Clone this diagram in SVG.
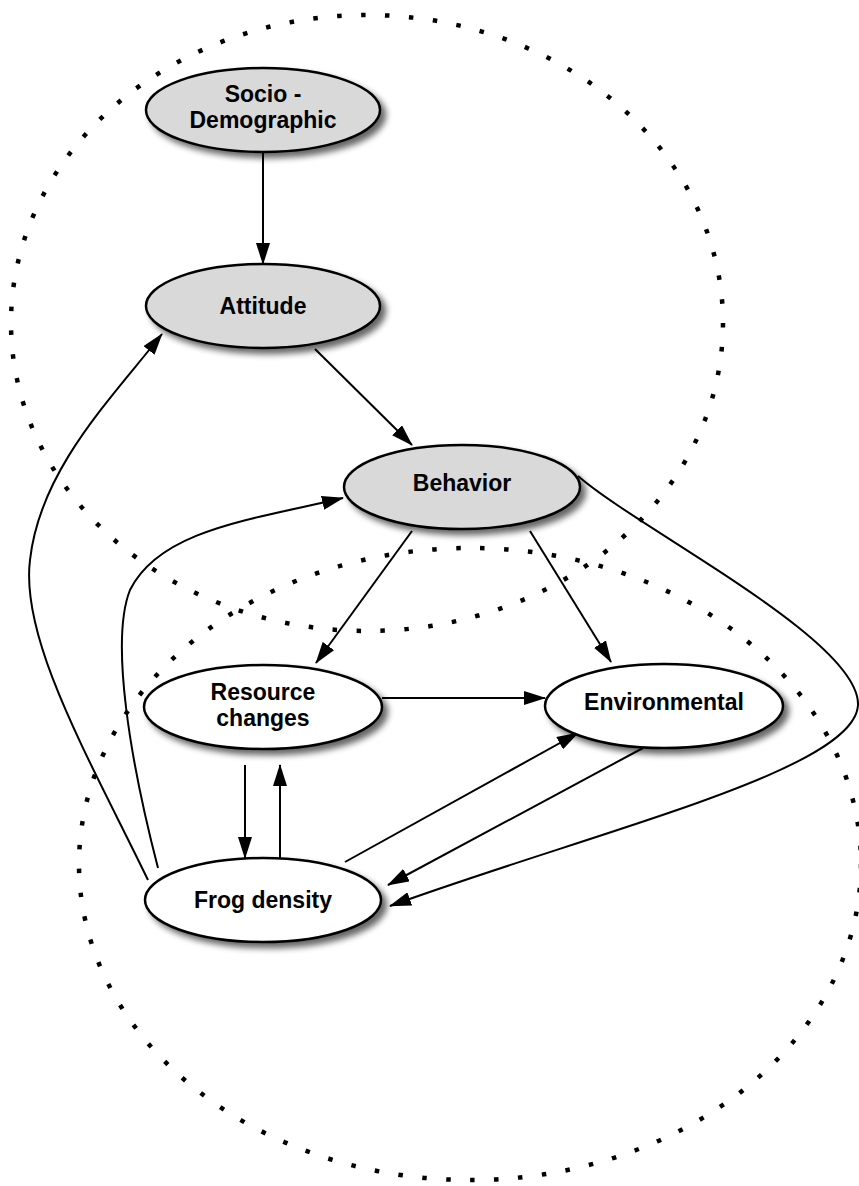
<svg xmlns="http://www.w3.org/2000/svg" width="859" height="1186" viewBox="0 0 859 1186">
<style>
.bg{fill:#ffffff}
.dots{fill:none;stroke:#000;stroke-width:4.5;stroke-dasharray:4.5 19.5}
.node{stroke:#000;stroke-width:2.5;filter:url(#shadow)}
.gray{fill:#d9d9d9}
.white{fill:#ffffff}
.lbl{font-family:"Liberation Sans",Arial,Helvetica,sans-serif;font-weight:bold;font-size:23px;fill:#000;text-anchor:middle}
.edge{fill:none;stroke:#000;stroke-width:2;marker-end:url(#arrow)}
</style>
<defs>
<filter id="shadow" x="-20%" y="-30%" width="150%" height="170%">
<feGaussianBlur in="SourceAlpha" stdDeviation="3"/>
<feOffset dx="5" dy="5" result="b"/>
<feComponentTransfer><feFuncA type="linear" slope="0.6"/></feComponentTransfer>
<feMerge><feMergeNode/><feMergeNode in="SourceGraphic"/></feMerge>
</filter>
<marker id="arrow" markerUnits="userSpaceOnUse" markerWidth="22" markerHeight="14" viewBox="0 0 22 14" refX="21" refY="7" orient="auto">
<path d="M0,0 L22,7 L0,14 z" fill="#000"/>
</marker>
</defs>
<rect class="bg" x="0" y="0" width="859" height="1186"/>
<g id="boundaries">
<ellipse class="dots" cx="367" cy="323" rx="356" ry="308"/>
<ellipse class="dots" cx="470" cy="864" rx="391" ry="316"/>
</g>
<g id="connectors">
<path class="edge" d="M263,152 L263,264"/>
<path class="edge" d="M315,349 L412,445"/>
<path class="edge" d="M412,531 L316,663"/>
<path class="edge" d="M530,531 L611,662"/>
<path class="edge" d="M382,698 L545,698"/>
<path class="edge" d="M245,765 L245,858"/>
<path class="edge" d="M280,858 L280,765"/>
<path class="edge" d="M345,862 L578,733"/>
<path class="edge" d="M643,748 L388,885"/>
<path class="edge" d="M578,476 C640,530 860,640 858,705 C855,770 600,830 390,906"/>
<path class="edge" d="M148,880 C90,760 20,640 30,560 C40,470 110,400 162,334"/>
<path class="edge" d="M158,868 C130,760 110,640 130,590 C160,530 250,520 343,498"/>
</g>
<g id="node-socio">
<ellipse class="node gray" cx="263" cy="110" rx="117" ry="42"/>
<text class="lbl" x="263" y="102">Socio -</text>
<text class="lbl" x="263" y="128">Demographic</text>
</g>
<g id="node-attitude">
<ellipse class="node gray" cx="263" cy="306" rx="117" ry="42"/>
<text class="lbl" x="263" y="314">Attitude</text>
</g>
<g id="node-behavior">
<ellipse class="node gray" cx="462" cy="487" rx="118" ry="42"/>
<text class="lbl" x="462" y="491">Behavior</text>
</g>
<g id="node-resource">
<ellipse class="node white" cx="263" cy="707" rx="119" ry="42"/>
<text class="lbl" x="263" y="700">Resource</text>
<text class="lbl" x="263" y="726">changes</text>
</g>
<g id="node-environmental">
<ellipse class="node white" cx="664" cy="706" rx="119" ry="42"/>
<text class="lbl" x="664" y="710">Environmental</text>
</g>
<g id="node-frog">
<ellipse class="node white" cx="263" cy="900" rx="118" ry="42"/>
<text class="lbl" x="263" y="908">Frog density</text>
</g>
</svg>
